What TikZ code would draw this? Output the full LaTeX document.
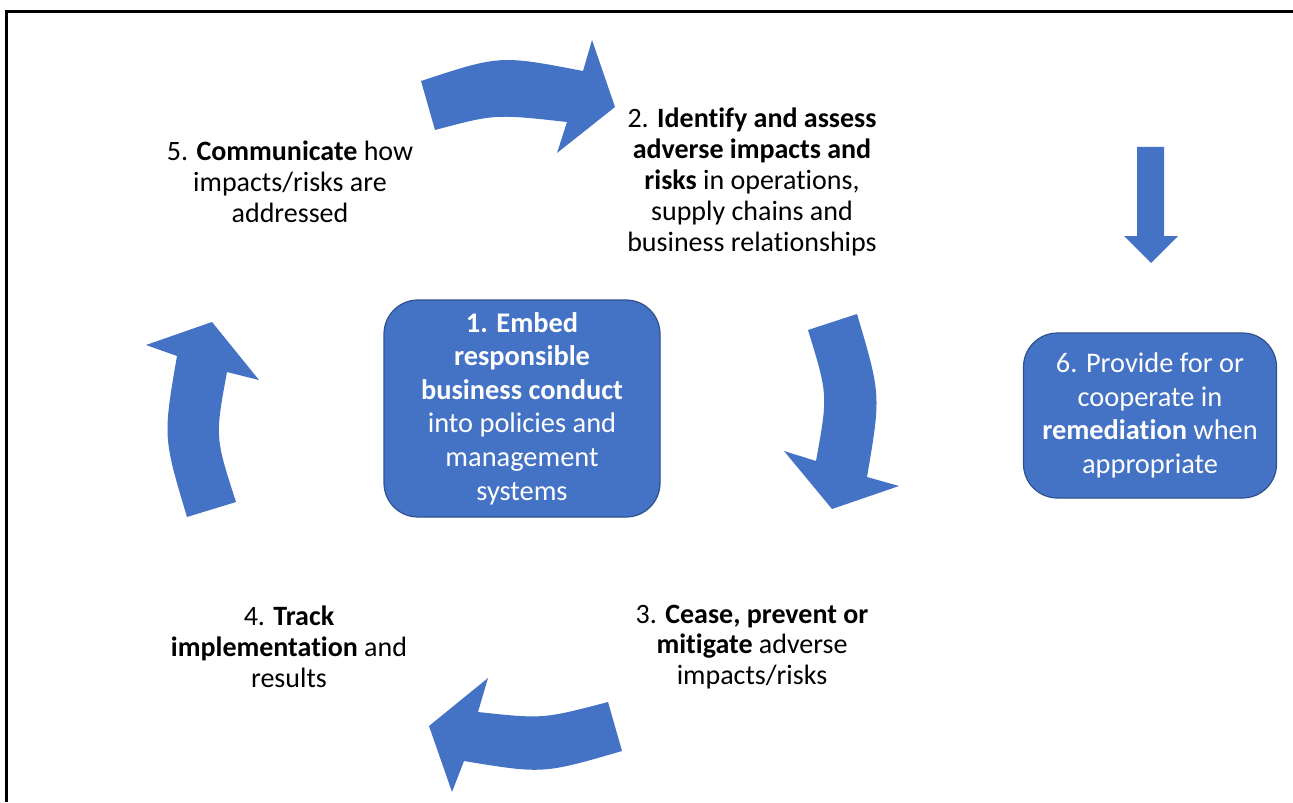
\documentclass[tikz,border=0pt]{standalone}
\usepackage{fontspec}
\setmainfont{Carlito}[Ligatures=NoCommon]
\definecolor{stepblue}{HTML}{4472C4}
\definecolor{stepedge}{HTML}{2F528F}

\begin{document}
\begin{tikzpicture}[x=0.5pt,y=-0.5pt,
 every node/.style={align=center,inner sep=0pt,font=\fontsize{14}{15.4}\selectfont},
 box/.style={draw=stepedge,line width=0.6pt,fill=stepblue,rounded corners=17pt,text=white,
  font=\fontsize{14.2}{16.8}\selectfont},
 bigarrow/.style={fill=stepblue}]
\useasboundingbox (0,0) rectangle (1293,802);
\draw[line width=1.35pt] (6.7,802) -- (6.7,11.3) -- (1293,11.3);
\node[box,minimum width=138pt,minimum height=108.5pt] (embed) at (522,408.5)
 {\textbf{1. Embed}\\\textbf{responsible}\\\textbf{business conduct}\\into policies and\\management\\systems};
\node (identify) at (752,182)
 {2. \textbf{Identify and assess}\\\textbf{adverse impacts and}\\\textbf{risks} in operations,\\supply chains and\\business relationships};
\node (cease) at (752,647)
 {3. \textbf{Cease, prevent or}\\\textbf{mitigate} adverse\\impacts/risks};
\node (track) at (289,647)
 {4. \textbf{Track}\\\textbf{implementation} and\\results};
\node (communicate) at (290,182)
 {5. \textbf{Communicate} how\\impacts/risks are\\addressed};
\node[box,minimum width=126.5pt,minimum height=82.5pt] (remedy) at (1150,415.5)
 {6. Provide for or\\cooperate in\\\textbf{remediation} when\\appropriate};
\fill[bigarrow] (421,81) .. controls (500,55) .. (583,71) -- (592,40) -- (615,107)
 -- (557,153) -- (567,122) .. controls (495,114) .. (435,130) -- cycle;
\fill[bigarrow] (808,330) -- (857,314) .. controls (881,395) .. (867,477) -- (899,486)
 -- (832,509) -- (784,451) -- (816,461) .. controls (828,395) .. (808,330) -- cycle;
\fill[bigarrow] (608,702) -- (622,751) .. controls (543,774) .. (464,761) -- (452,792)
 -- (429,726) -- (488,678) -- (478,712) .. controls (543,719) .. (608,702) -- cycle;
\fill[bigarrow] (187,517) -- (236,502) .. controls (215,437) .. (227,372) -- (259,380)
 -- (212,322) -- (146,345) -- (177,356) .. controls (163,437) .. (187,517) -- cycle;
\fill[bigarrow] (1137,147) -- (1164,147) -- (1164,236) -- (1178,236) -- (1151,263)
 -- (1124,236) -- (1137,236) -- cycle;
\end{tikzpicture}
\end{document}
